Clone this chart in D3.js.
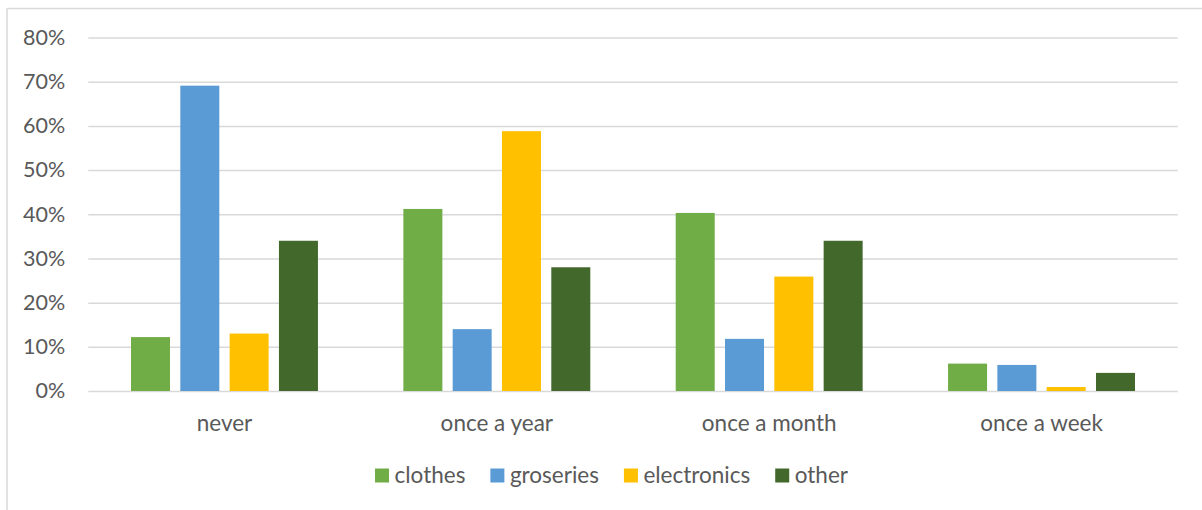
<!DOCTYPE html>
<html>
<head>
<meta charset="utf-8">
<script src="https://cdn.jsdelivr.net/npm/d3@7"></script>
<style>
  html, body { margin: 0; padding: 0; background: #fff; }
  svg { display: block; }
  text { font-family: Lato, "Open Sans", sans-serif; fill: #595959; }
</style>
</head>
<body>
<svg id="chart" width="1202" height="510"></svg>
<script>
// Shopping frequency by purchase type
const categories = ["never", "once a year", "once a month", "once a week"];
const seriesNames = ["clothes", "groseries", "electronics", "other"];
const clothes     = [0.122, 0.412, 0.403, 0.062];
const groseries   = [0.691, 0.140, 0.118, 0.059];
const electronics = [0.130, 0.588, 0.259, 0.009];
const other       = [0.340, 0.280, 0.340, 0.041];
const yTicks      = [0, 0.1, 0.2, 0.3, 0.4, 0.5, 0.6, 0.7, 0.8];
const colors      = ["#70AD47", "#5B9BD5", "#FFC000", "#43682B"];

const seriesValues = [clothes, groseries, electronics, other];
const rows = categories.map((c, i) => ({
  category: c,
  values: seriesNames.map((s, j) => ({ series: s, value: seriesValues[j][i] }))
}));

const svg = d3.select("#chart");
const W = 1202, H = 510;
const plot = { left: 88.3, right: 1177.7, top: 37.5, bottom: 391 };
const FONT = "Lato, 'Open Sans', sans-serif";

// chart frame (top and left edges visible)
svg.append("line").attr("x1", 7).attr("x2", W).attr("y1", 8.5).attr("y2", 8.5)
  .attr("stroke", "#D9D9D9").attr("stroke-width", 1.5);
svg.append("line").attr("x1", 7).attr("x2", 7).attr("y1", 8.5).attr("y2", H)
  .attr("stroke", "#D9D9D9").attr("stroke-width", 1.5);

const y = d3.scaleLinear().domain([0, 0.8]).range([plot.bottom, plot.top]);
const x0 = d3.scaleBand().domain(categories).range([plot.left, plot.right]).padding(0);
const x1 = d3.scaleBand().domain(seriesNames).range([0, x0.bandwidth()])
  .paddingInner(0.209).paddingOuter(0.866);
const color = d3.scaleOrdinal().domain(seriesNames).range(colors);

// gridlines + y labels
const yAxis = d3.axisLeft(y).tickValues(yTicks).tickFormat(d3.format(".0%"))
  .tickSize(-(plot.right - plot.left)).tickPadding(23);
const gy = svg.append("g").attr("transform", `translate(${plot.left},0)`).call(yAxis);
gy.select(".domain").remove();
gy.selectAll(".tick line").attr("stroke", "#D9D9D9").attr("stroke-width", 1.5);
gy.selectAll(".tick text").attr("font-size", 21.5).attr("fill", "#595959")
  .style("font-family", FONT);

// bars
const groups = svg.append("g").selectAll("g").data(rows).join("g")
  .attr("transform", d => `translate(${x0(d.category)},0)`);
groups.selectAll("rect").data(d => d.values).join("rect")
  .attr("x", d => x1(d.series))
  .attr("width", x1.bandwidth())
  .attr("y", d => y(d.value))
  .attr("height", d => y(0) - y(d.value))
  .attr("fill", d => color(d.series));

// category axis labels
const xAxis = d3.axisBottom(x0).tickSize(0).tickPadding(24);
const gx = svg.append("g").attr("transform", `translate(0,${plot.bottom})`).call(xAxis);
gx.select(".domain").remove();
gx.selectAll(".tick text").attr("font-size", 22.5).attr("fill", "#595959")
  .style("font-family", FONT);

// legend
const legend = svg.append("g");
const items = legend.selectAll("g").data(seriesNames).join("g");
items.append("rect").attr("width", 14).attr("height", 14).attr("y", -7)
  .attr("fill", d => color(d));
items.append("text").attr("x", 19.5).attr("dy", "0.35em")
  .attr("font-size", 22.5).text(d => d);
let cx = 0;
items.each(function () {
  const g = d3.select(this);
  g.attr("transform", `translate(${cx},475.5)`);
  const w = 19.5 + g.select("text").node().getComputedTextLength();
  cx += w + 25;
});
const totalW = cx - 25;
legend.attr("transform", `translate(${611.5 - totalW / 2},0)`);
</script>
</body>
</html>
